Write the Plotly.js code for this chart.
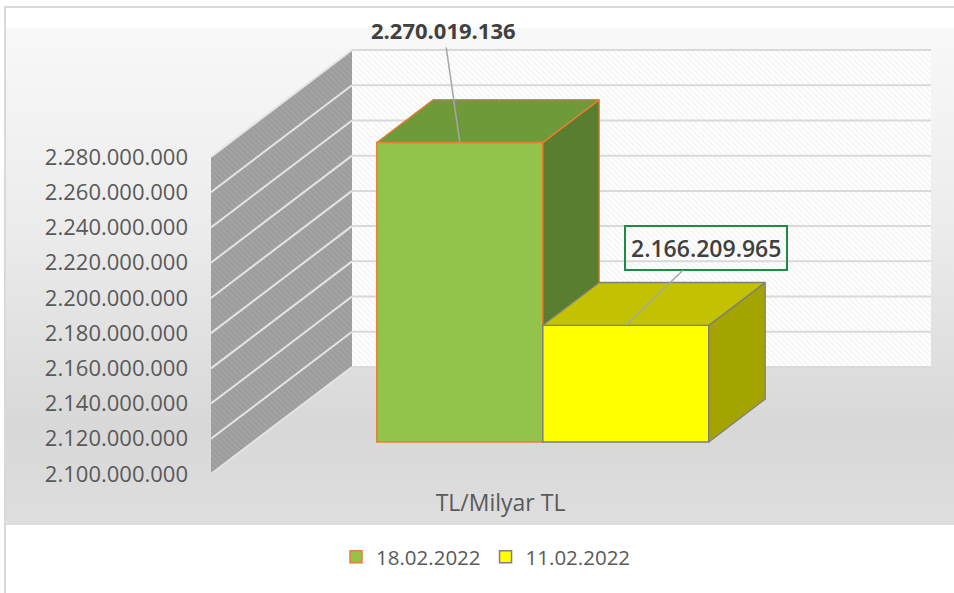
<!DOCTYPE html>
<html>
<head>
<meta charset="utf-8">
<script src="https://cdn.plot.ly/plotly-3.0.1.min.js"></script>
<style>
  html, body { margin: 0; padding: 0; background: #ffffff; }
  #frame { position: absolute; left: 4px; top: 6px; width: 970px; height: 600px;
           border-top: 2px solid #d9d9d9; border-left: 2px solid #d9d9d9; }
  #bg { position: absolute; left: 6px; top: 28px; width: 948px; height: 497px;
        background: linear-gradient(to bottom, #f8f8f8 0%, #ececec 40%, #d8d8d8 80%, #dedede 100%); }
  #chart { position: absolute; left: 0; top: 0; width: 954px; height: 593px; }
</style>
</head>
<body>
<div id="frame"></div>
<div id="bg"></div>
<div id="chart"></div>
<script>
// ---- data ----
const categories = ['TL/Milyar TL'];
const seriesNames = ['18.02.2022', '11.02.2022'];
const seriesValues = [2270019136, 2166209965];
const seriesLabels = ['2.270.019.136', '2.166.209.965'];
const yTickVals = [2100000000, 2120000000, 2140000000, 2160000000, 2180000000,
                   2200000000, 2220000000, 2240000000, 2260000000, 2280000000];
const yTickText = ['2.100.000.000', '2.120.000.000', '2.140.000.000', '2.160.000.000', '2.180.000.000',
                   '2.200.000.000', '2.220.000.000', '2.240.000.000', '2.260.000.000', '2.280.000.000'];

// ---- styles ----
const frontColors = ['#92c44c', '#ffff00'];
const topColors = ['#6f9a3a', '#c2c200'];
const sideColors = ['#5a7e30', '#a4a400'];
const edgeColors = ['#ed7d31', '#7f7f7f'];

// ---- geometry (layout only) ----
const W = 954, H = 593;
const mL = 211, mR = 19, mT = 28, mB = 106;
const plotW = W - mL - mR, plotH = H - mT - mB;
const frontSpanPx = 579;                 // width of the front plane of the category
const yMin = yTickVals[0], yMax = yTickVals[yTickVals.length - 1];
const pxMinY = 474, pxMaxY = 157;        // pixel rows of axis min / max on the front plane
const pxPerVal = (pxMinY - pxMaxY) / (yMax - yMin);
const yRange = [yMin - (mT + plotH - pxMinY) / pxPerVal, yMin + (pxMinY - mT) / pxPerVal];
const xRange = [-0.5, -0.5 + plotW / frontSpanPx];
const depthX = 141 / frontSpanPx;        // full depth, x units
const depthY = 107 / pxPerVal;           // full depth, value units
const d0 = 0.3, d1 = 0.7;                // bar depth band
const barW = 166 / frontSpanPx;

const traces = [];
const xL = -0.5, xR = 0.5;

// side wall
traces.push({
  type: 'scatter', mode: 'lines', fill: 'toself', hoverinfo: 'skip', showlegend: false, zorder: 0,
  x: [xL, xL, xL + depthX, xL + depthX, xL],
  y: [yMin, yMax, yMax + depthY, yMin + depthY, yMin],
  line: {width: 0, color: 'rgba(0,0,0,0)'},
  fillcolor: '#a3a3a3',
  fillpattern: {shape: '\\', fgcolor: '#999999', bgcolor: '#a3a3a3', size: 4, solidity: 0.3}
});
// back wall
traces.push({
  type: 'scatter', mode: 'lines', fill: 'toself', hoverinfo: 'skip', showlegend: false, zorder: 0,
  x: [xL + depthX, xR + depthX, xR + depthX, xL + depthX, xL + depthX],
  y: [yMin + depthY, yMin + depthY, yMax + depthY, yMax + depthY, yMin + depthY],
  line: {width: 0, color: 'rgba(0,0,0,0)'},
  fillcolor: '#ffffff',
  fillpattern: {shape: '\\', fgcolor: '#f1f1f1', bgcolor: '#ffffff', size: 4, solidity: 0.3}
});
// gridlines on walls
const gsx = [], gsy = [], gbx = [], gby = [];
yTickVals.forEach(t => {
  gsx.push(xL, xL + depthX, null); gsy.push(t, t + depthY, null);
  gbx.push(xL + depthX, xR + depthX, null); gby.push(t + depthY, t + depthY, null);
});
traces.push({type: 'scatter', mode: 'lines', hoverinfo: 'skip', showlegend: false, zorder: 0,
  x: gsx, y: gsy, line: {color: '#e4e4e4', width: 2}});
traces.push({type: 'scatter', mode: 'lines', hoverinfo: 'skip', showlegend: false, zorder: 0,
  x: gbx, y: gby, line: {color: '#d9d9d9', width: 2}});

// bars
const nS = seriesValues.length;
const annotations = [];
seriesValues.forEach((v, i) => {
  const x0 = -barW * nS / 2 + i * barW, x1 = x0 + barW;
  const sx0 = d0 * depthX, sy0 = d0 * depthY, sx1 = d1 * depthX, sy1 = d1 * depthY;
  const z = i + 1;
  // right side face
  traces.push({type: 'scatter', mode: 'lines', fill: 'toself', hoverinfo: 'skip', showlegend: false, zorder: z,
    x: [x1 + sx0, x1 + sx0, x1 + sx1, x1 + sx1, x1 + sx0],
    y: [yMin + sy0, v + sy0, v + sy1, yMin + sy1, yMin + sy0],
    fillcolor: sideColors[i], line: {color: edgeColors[i], width: 1.3}});
  // top face
  traces.push({type: 'scatter', mode: 'lines', fill: 'toself', hoverinfo: 'skip', showlegend: false, zorder: z,
    x: [x0 + sx0, x1 + sx0, x1 + sx1, x0 + sx1, x0 + sx0],
    y: [v + sy0, v + sy0, v + sy1, v + sy1, v + sy0],
    fillcolor: topColors[i], line: {color: edgeColors[i], width: 1.3}});
  // front face (real bar)
  traces.push({type: 'bar', name: seriesNames[i], hoverinfo: 'skip', zorder: z,
    x: [(x0 + x1) / 2 + sx0], y: [v - yMin], base: [yMin + sy0], width: [barW],
    marker: {color: frontColors[i], line: {color: edgeColors[i], width: 1.5}}});
});

// data labels with leader lines
const labelOffsets = [[-16, -112], [80, -77]];
const labelSizes = [22, 23];
const labelWeights = [700, 600];
seriesValues.forEach((v, i) => {
  const x0 = -barW * nS / 2 + i * barW;
  annotations.push({
    x: x0 + barW / 2 + d0 * depthX, y: v + d0 * depthY, xref: 'x', yref: 'y',
    text: seriesLabels[i], showarrow: true, arrowhead: 0, arrowwidth: 1.5, arrowcolor: '#a6a6a6',
    standoff: 0, startstandoff: 0,
    ax: labelOffsets[i][0], ay: labelOffsets[i][1], xanchor: 'center', yanchor: 'middle',
    font: {family: 'Open Sans, sans-serif', size: labelSizes[i], color: '#404040', weight: labelWeights[i]},
    bordercolor: i === 1 ? '#1e8c45' : 'rgba(0,0,0,0)', borderwidth: i === 1 ? 2 : 0, borderpad: i === 1 ? 5 : 2
  });
});

const layout = {
  width: W, height: H,
  margin: {l: mL, r: mR, t: mT, b: mB, pad: 0},
  paper_bgcolor: 'rgba(0,0,0,0)', plot_bgcolor: 'rgba(0,0,0,0)',
  barmode: 'overlay',
  font: {family: 'Open Sans, sans-serif', color: '#595959', size: 21},
  xaxis: {range: xRange, tickvals: [0], ticktext: categories, showgrid: false, zeroline: false,
          showline: false, ticks: '', tickfont: {size: 23, color: '#595959'}, fixedrange: true},
  yaxis: {range: yRange, tickvals: yTickVals, ticktext: yTickText, showgrid: false, zeroline: false,
          showline: false, ticks: '', ticklabelstandoff: 22, tickfont: {size: 22, color: '#595959'},
          fixedrange: true},
  showlegend: true,
  legend: {orientation: 'h', x: (486 - mL) / plotW, xanchor: 'center', y: (mT + plotH - 557) / plotH,
           yanchor: 'middle', font: {size: 20.5, color: '#595959'}, bgcolor: 'rgba(0,0,0,0)',
           traceorder: 'normal', itemclick: false},
  annotations: annotations
};

Plotly.newPlot('chart', traces, layout, {staticPlot: true, displayModeBar: false});
</script>
</body>
</html>
